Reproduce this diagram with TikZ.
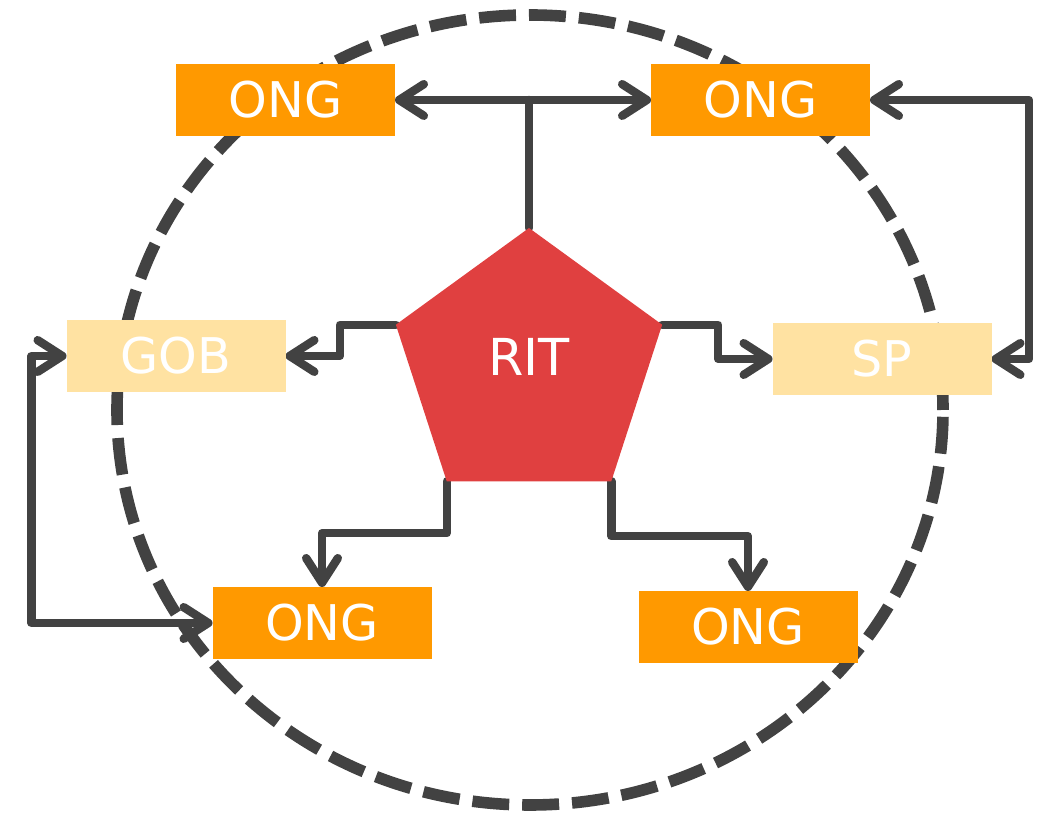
\documentclass[tikz,border=0pt]{standalone}
\usepackage{fontspec}
\setmainfont{DejaVu Sans}
\usetikzlibrary{shapes.geometric,arrows.meta,positioning,calc,backgrounds}
\definecolor{ongorange}{HTML}{FF9900}
\definecolor{paleyellow}{HTML}{FFE2A2}
\definecolor{ritred}{HTML}{E04040}
\definecolor{linegray}{HTML}{424242}

\begin{document}
\begin{tikzpicture}[
    ongbox/.style={fill=ongorange, text=white, minimum width=2.19cm, minimum height=0.72cm,
        inner sep=0pt, outer sep=0pt, font=\fontsize{14}{16}\selectfont},
    palebox/.style={ongbox, fill=paleyellow},
    barb/.tip={Straight Barb[length=7pt,width=9pt,round]},
    link/.style={draw=linegray, line width=2.4pt, line cap=round, line join=round},
    ring/.style={draw=linegray, line width=3.3pt, dash pattern=on 10.5pt off 3.7pt}
]
    \useasboundingbox (0,0) rectangle (10.46,8.15);

    % RIT in the middle
    \node[regular polygon, regular polygon sides=5, minimum size=2.8cm, inner sep=0pt,
        outer sep=0pt, fill=ritred] (rit) at (5.29,4.47) {};
    \node[text=white, font=\fontsize{14.5}{16}\selectfont] (ritlabel) at ($(rit.center)+(0,0.11)$) {RIT};

    % organisations round it
    \node[ongbox] (ong1) at (2.855,7.15) {ONG};
    \node[ongbox] (ong2) at (7.605,7.15) {ONG};
    \node[palebox] (gob) at (1.76,4.59) {GOB};
    \node[palebox] (sp) at (8.82,4.56) {SP};
    \node[ongbox] (ong3) at (3.22,1.92) {ONG};
    \node[ongbox] (ong4) at (7.48,1.88) {ONG};

    \begin{scope}[on background layer]
        % links from RIT
        \draw[link] (rit.north) -- (rit.north |- ong1.east);
        \draw[link, barb-barb] (ong1.east) -- (ong2.west);
        \draw[link, -barb] (rit.corner 2) -- ++(-0.56,0) |- (gob.east);
        \draw[link, -barb] (rit.corner 5) -- ++(0.56,0) |- (sp.west);
        \draw[link, -barb] (rit.corner 3) -- ++(0,-0.52) -| (ong3.north);
        \draw[link, -barb] (rit.corner 4) -- ++(0,-0.55) -| (ong4.north);

        % outer loops
        \draw[link, barb-barb] (ong2.east) -- ++(1.59,0) |- (sp.east);
        \draw[link, barb-barb] (gob.west) -- ++(-0.35,0) |- (ong3.west);

        % dashed ring
        \draw[ring] (5.30,4.05) ellipse (4.13 and 3.95);
    \end{scope}
\end{tikzpicture}
\end{document}
